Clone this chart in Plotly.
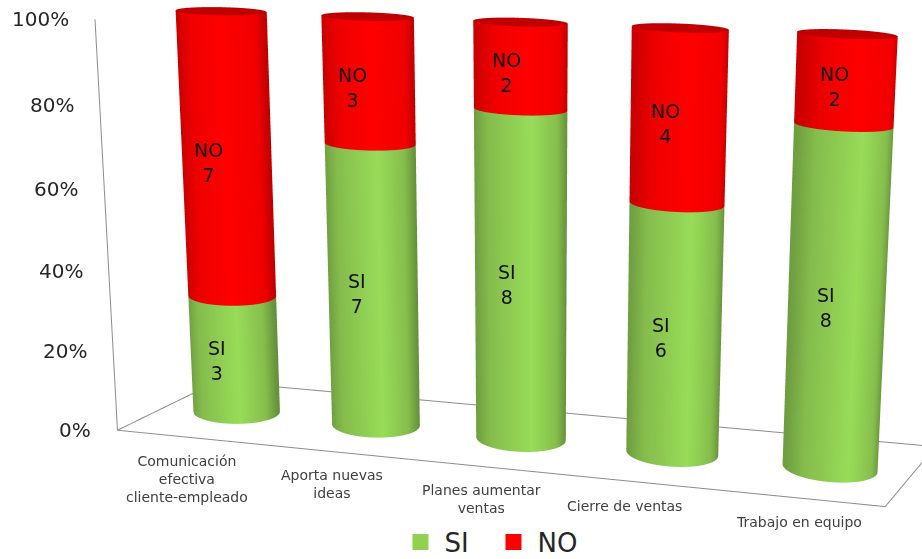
import numpy as np
import plotly.graph_objects as go

CATEGORIES = ["Comunicación<br>efectiva<br>cliente-empleado", "Aporta nuevas<br>ideas",
              "Planes aumentar<br>ventas", "Cierre de ventas", "Trabajo en equipo"]
SI = [3, 7, 8, 6, 8]
NO = [7, 3, 2, 4, 2]
TICKS = [0, 20, 40, 60, 80, 100]

W, H = 922, 559

# Oblique view: (category, depth, share, 1) -> scene coordinates
VIEW = np.array([[1.11672, 0.12531, -0.00547, -0.52973],
                 [-0.10679, 0.07962, -0.05381, 0.04049],
                 [-0.08182, 0.06323, 0.61298, -0.23243]])

# Cylinder cross-section
RADIUS_X = 0.0681
RADIUS_TILT = -0.03
RADIUS_DEPTH, RADIUS_LIFT = 0.0226, 0.0149
theta = np.linspace(0, 2 * np.pi, 181)

GREEN = [[0, "#6F9E40"], [.15, "#85BC4D"], [.6, "#98DC58"], [.88, "#86BE4D"], [1, "#668F3A"]]
RED = [[0, "#C80000"], [.2, "#EE0000"], [.55, "#FF0000"], [.9, "#F00000"], [1, "#C00000"]]
FLAT = dict(ambient=1, diffuse=0, specular=0, fresnel=0, roughness=1)


def place(u, v, w):
    return VIEW @ np.array([u, v, w, 1.0])


ring = (np.outer(np.cos(theta), np.array([RADIUS_X, 0, RADIUS_X * RADIUS_TILT]))
        + np.outer(np.sin(theta), np.array([0, RADIUS_DEPTH, RADIUS_LIFT])))


def side(i, w0, w1, scale):
    u = (i + .5) / len(SI)
    c0, c1 = place(u, .5, w0), place(u, .5, w1)
    grid = [np.array([c0[k] + ring[:, k], c1[k] + ring[:, k]]) for k in range(3)]
    shade = np.array([np.cos(theta), np.cos(theta)])
    return go.Surface(x=grid[0], y=grid[1], z=grid[2], surfacecolor=shade, cmin=-1, cmax=1,
                      colorscale=scale, showscale=False, hoverinfo="skip", lighting=FLAT)


def cap(i, w, color):
    c = place((i + .5) / len(SI), .5, w)
    k = np.array([0.0, 1.0])
    grid = [c[n] + np.outer(k, ring[:, n]) for n in range(3)]
    return go.Surface(x=grid[0], y=grid[1], z=grid[2], surfacecolor=np.zeros_like(grid[0]), cmin=-1, cmax=1,
                      colorscale=[[0, color], [1, color]], showscale=False, hoverinfo="skip", lighting=FLAT)


fig = go.Figure()
for i in range(len(SI)):
    share = SI[i] / (SI[i] + NO[i])
    fig.add_trace(side(i, 0, share, GREEN))
    fig.add_trace(side(i, share, 1, RED))
    fig.add_trace(cap(i, 1, "#C00000"))

# Floor outline and the value-axis edge
edges = np.array([place(*p) for p in [(0, 0, 1), (0, 0, 0), (1, 0, 0), (1, 1, 0), (0, 1, 0), (0, 0, 0)]])
fig.add_trace(go.Scatter3d(x=edges[:, 0], y=edges[:, 1], z=edges[:, 2], mode="lines",
                           line=dict(color="#8C8C8C", width=2), hoverinfo="skip", showlegend=False))

fig.add_trace(go.Scatter3d(x=[None], y=[None], z=[None], mode="markers",
                           marker=dict(symbol="square", size=18, color="#92D050"), name="SI"))
fig.add_trace(go.Scatter3d(x=[None], y=[None], z=[None], mode="markers",
                           marker=dict(symbol="square", size=18, color="#FF0000"), name="NO"))

notes = []
for t in TICKS:
    c = place(0, 0, t / 100)
    notes.append(dict(x=c[0], y=c[1], z=c[2], text=f"{t}%", showarrow=False, xanchor="right", yanchor="middle",
                      xshift=-24, font=dict(size=20, color="#262626", family="DejaVu Sans")))
CAT_SHIFT = [0, 1, 1, -13, -2]
for i, label in enumerate(CATEGORIES):
    c = place((i + .5) / len(SI), 0, 0)
    notes.append(dict(x=c[0], y=c[1], z=c[2], text=label, showarrow=False, xanchor="center", yanchor="top",
                      xshift=CAT_SHIFT[i], yshift=-14, font=dict(size=14, color="#404040", family="DejaVu Sans")))
LABEL_SHIFT = [-18, -16, -14, -13, -11]
for i in range(len(SI)):
    total = SI[i] + NO[i]
    for name, val, base in (("SI", SI[i], 0), ("NO", NO[i], SI[i])):
        c = place((i + .5) / len(SI), .5, (base + val / 2) / total)
        notes.append(dict(x=c[0], y=c[1], z=c[2], text=f"{name}<br>{val}", showarrow=False,
                          xshift=LABEL_SHIFT[i], yshift=-7,
                          font=dict(size=19, color="#111111", family="DejaVu Sans")))

axis = dict(visible=False, range=[-1.5, 1.5], autorange=False)
fig.update_layout(
    width=W, height=H, margin=dict(l=0, r=0, t=0, b=0, autoexpand=False), paper_bgcolor="white",
    scene=dict(domain=dict(x=[0, 1], y=[0, 1]), xaxis=axis, yaxis=axis, zaxis=axis,
               aspectmode="manual", aspectratio=dict(x=3, y=3, z=3),
               camera=dict(eye=dict(x=0, y=-1, z=0), center=dict(x=0, y=0, z=0), up=dict(x=0, y=0, z=1),
                           projection=dict(type="perspective")),
               annotations=notes),
    legend=dict(orientation="h", x=.43, xanchor="left", y=-.012, yanchor="bottom", itemwidth=38,
                entrywidth=40, entrywidthmode="pixels",
                font=dict(size=26, family="DejaVu Sans", color="#262626")))
fig.write_html("out.html")
